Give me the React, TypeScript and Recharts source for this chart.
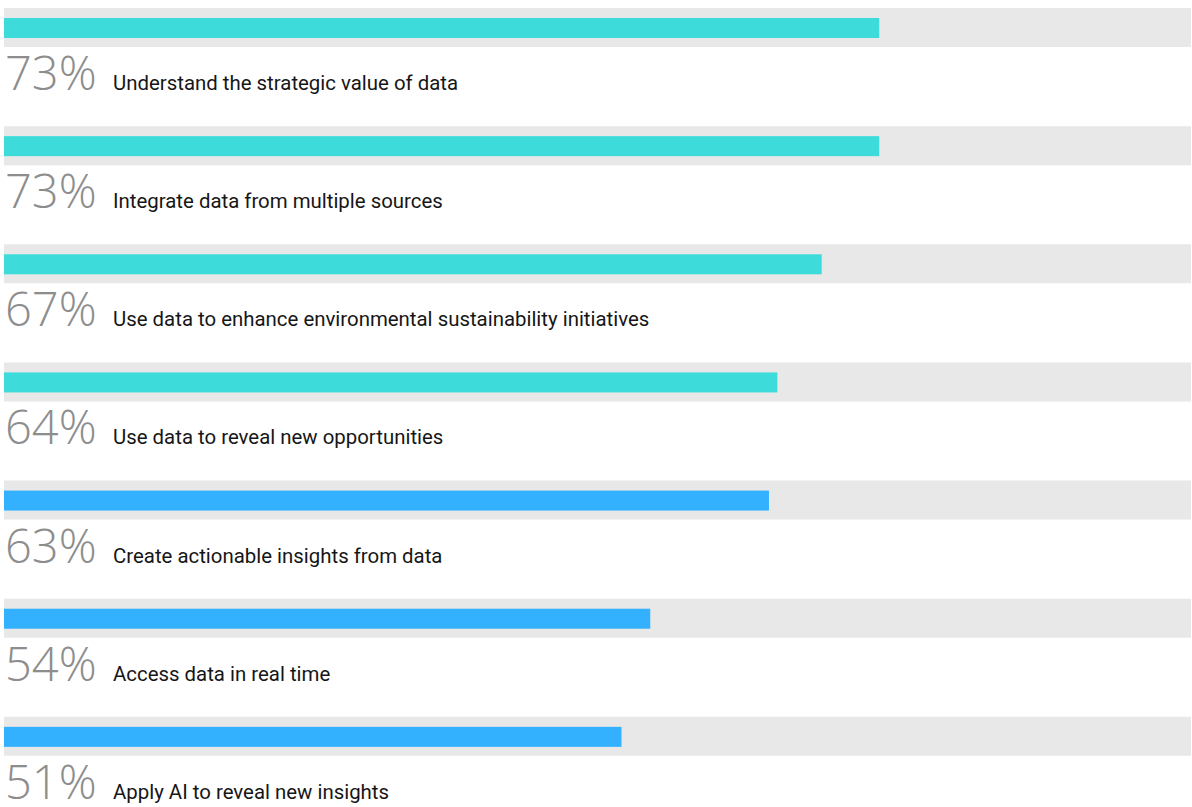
import React from 'react';
import { BarChart, Bar, XAxis, YAxis, Cell, LabelList } from 'recharts';

const categories = [
  'Understand the strategic value of data',
  'Integrate data from multiple sources',
  'Use data to enhance environmental sustainability initiatives',
  'Use data to reveal new opportunities',
  'Create actionable insights from data',
  'Access data in real time',
  'Apply AI to reveal new insights',
];
const pctLabels = [73, 73, 67, 64, 63, 54, 51];
const barValues = [73.0, 73.0, 68.2, 64.5, 63.8, 53.9, 51.5];
const groups = ['a', 'a', 'a', 'a', 'b', 'b', 'b'];

const groupColors: Record<string, string> = { a: '#3ddbd9', b: '#33b1ff' };

const data = categories.map((name, i) => ({
  name,
  value: barValues[i],
  pct: pctLabels[i],
  group: groups[i],
}));

const InnerBar = (props: any) => {
  const { x, y, width, height, fill } = props;
  return <rect x={x} y={y + 10} width={Math.max(0, width)} height={height - 19} fill={fill} />;
};

const RowLabel = (props: any) => {
  const { x, y, height, index } = props;
  const base = y + height + 43;
  return (
    <g>
      <text x={x + 1} y={base} fontFamily="'Open Sans'" fontWeight={300} fontSize={47} fill="#8d8d8d">
        {pctLabels[index]}%
      </text>
      <text x={x + 109} y={base} fontFamily="Roboto" fontSize={20.4} fill="#161616">
        {categories[index]}
      </text>
    </g>
  );
};

export default function App() {
  return (
    <div style={{ position: 'absolute', left: 0, top: 0, width: 1192, height: 807, overflow: 'hidden', background: '#fff' }}>
      <div style={{ position: 'absolute', left: 0, top: -32.5 }}>
        <BarChart
          width={1192}
          height={867}
          data={data}
          layout="vertical"
          margin={{ top: 0, right: 1, bottom: 40, left: 4 }}
        >
          <XAxis type="number" domain={[0, 99]} hide />
          <YAxis type="category" dataKey="name" hide />
          <Bar
            dataKey="value"
            barSize={39}
            background={{ fill: '#e8e8e8' }}
            shape={InnerBar}
            isAnimationActive={false}
          >
            {data.map((d, i) => (
              <Cell key={i} fill={groupColors[d.group]} />
            ))}
            <LabelList dataKey="pct" content={RowLabel} />
          </Bar>
        </BarChart>
      </div>
    </div>
  );
}
